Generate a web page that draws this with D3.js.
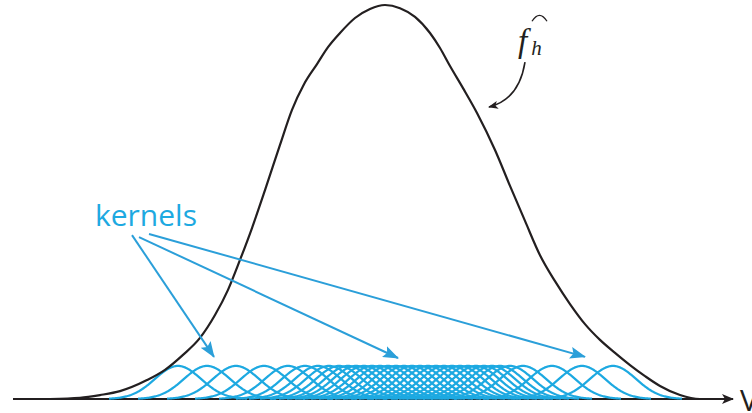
<!DOCTYPE html>
<html>
<head>
<meta charset="utf-8">
<script src="https://cdn.jsdelivr.net/npm/d3@7"></script>
<style>
  html, body { margin: 0; padding: 0; background: #fff; }
  svg { display: block; }
</style>
</head>
<body>
<svg id="chart" width="752" height="413"></svg>
<script>
// Kernel centres (observations) on the V axis
const kernelCenters = [16.5, 19.4, 22.3, 25.1, 27.5, 29.2, 30.5, 31.6, 32.6, 33.5,
  34.3, 35.1, 35.9, 36.7, 37.5, 38.3, 39.1, 39.9, 40.7, 41.5, 42.3, 43.1, 43.9,
  44.7, 45.5, 46.3, 47.1, 47.9, 48.7, 49.7, 51.0, 53.9, 56.9, 60.0];
const bandwidth = 2.3;       // kernel standard deviation
const kernelHeight = 0.084;  // peak height of one drawn kernel

// Estimated density f̂_h (V, density)
const densityV = [3.7, 6.7, 8.7, 10.7, 13.4, 15.2, 17.0, 18.7, 20.2, 21.5, 22.7, 23.9,
  25.2, 26.7, 27.9, 29.1, 30.4, 31.5, 32.7, 34.2, 35.7, 37.2, 38.7, 40.2, 41.7, 42.7,
  43.7, 45.0, 46.4, 48.2, 49.7, 51.2, 52.7, 54.2, 55.7, 57.2, 58.7, 60.2, 61.7, 63.2,
  64.7, 66.7, 68.7, 70.7];
const densityF = [0, 0.003, 0.010, 0.020, 0.048, 0.074, 0.112, 0.155, 0.213, 0.277, 0.353, 0.434,
  0.530, 0.645, 0.734, 0.799, 0.850, 0.893, 0.929, 0.967, 0.990, 1.0, 0.992, 0.970, 0.929, 0.891,
  0.845, 0.789, 0.726, 0.632, 0.541, 0.452, 0.365, 0.299, 0.241, 0.190, 0.150, 0.117, 0.086, 0.058,
  0.033, 0.010, 0, 0];

// Annotation anchors (V, density)
const kernelLabel = {text: "kernels", v: 8.2, f: 0.44};
const kernelArrowStarts = [[11.9, 0.416], [12.6, 0.411], [13.6, 0.419]];
const kernelArrowTips = [[20.1, 0.107], [38.5, 0.104], [57.2, 0.107]];
const fhatLabel = {v: 50.5, f: 0.88};
const fhatArrow = {from: [51.2, 0.855], ctrl: [50.6, 0.76], to: [47.6, 0.741]};
const axisLabel = "V";

const blue = "#1da9e1";
const arrowBlue = "#2b9fd9";
const ink = "#231f20";

const svg = d3.select("#chart");
const x = d3.scaleLinear().domain([0, 72]).range([13, 733]);
const y = d3.scaleLinear().domain([0, 1]).range([399, 5]);

const defs = svg.append("defs");
defs.append("marker").attr("id", "headBlue")
  .attr("viewBox", "0 0 16 12").attr("refX", 15).attr("refY", 6)
  .attr("markerUnits", "userSpaceOnUse").attr("markerWidth", 16).attr("markerHeight", 12)
  .attr("orient", "auto")
  .append("path").attr("d", "M0,0 L16,6 L0,12 L3,6 Z").attr("fill", arrowBlue);
defs.append("marker").attr("id", "headInk")
  .attr("viewBox", "0 0 12 10").attr("refX", 11).attr("refY", 5)
  .attr("markerUnits", "userSpaceOnUse").attr("markerWidth", 12).attr("markerHeight", 10)
  .attr("orient", "auto")
  .append("path").attr("d", "M0,0 L12,5 L0,10 L3,5 Z").attr("fill", ink);
defs.append("marker").attr("id", "headSmall")
  .attr("viewBox", "0 0 10 8").attr("refX", 9).attr("refY", 4)
  .attr("markerUnits", "userSpaceOnUse").attr("markerWidth", 10).attr("markerHeight", 8)
  .attr("orient", "auto")
  .append("path").attr("d", "M0,0 L10,4 L0,8 L2.5,4 Z").attr("fill", ink);

// V axis
svg.append("line")
  .attr("x1", x(0)).attr("x2", x(72))
  .attr("y1", y(0)).attr("y2", y(0))
  .attr("stroke", ink).attr("stroke-width", 2)
  .attr("marker-end", "url(#headInk)");
svg.append("text")
  .attr("x", x(72) + 7).attr("y", y(0) + 12)
  .attr("font-family", "'Open Sans', sans-serif").attr("font-size", 30)
  .attr("fill", ink).text(axisLabel);

// Individual kernels
const kernelLine = d3.line().x(d => x(d[0])).y(d => y(d[1]));
const kernelGroup = svg.append("g").attr("fill", "none").attr("stroke", blue).attr("stroke-width", 2.2);
kernelCenters.forEach(c => {
  const pts = d3.range(-3, 3.0001, 0.05).map(t => [c + t * bandwidth, kernelHeight * Math.exp(-0.5 * t * t)]);
  kernelGroup.append("path").attr("d", kernelLine(pts));
});

// Density estimate
const densityLine = d3.line().x((d, i) => x(densityV[i])).y(d => y(d)).curve(d3.curveMonotoneX);
svg.append("path")
  .attr("d", densityLine(densityF))
  .attr("fill", "none").attr("stroke", ink).attr("stroke-width", 2.2);

// Kernel label and arrows
svg.append("text")
  .attr("x", x(kernelLabel.v)).attr("y", y(kernelLabel.f))
  .attr("font-family", "'Open Sans', sans-serif").attr("font-size", 30)
  .attr("fill", blue).text(kernelLabel.text);
kernelArrowStarts.forEach((s, i) => {
  const t = kernelArrowTips[i];
  svg.append("line")
    .attr("x1", x(s[0])).attr("y1", y(s[1]))
    .attr("x2", x(t[0])).attr("y2", y(t[1]))
    .attr("stroke", arrowBlue).attr("stroke-width", 2)
    .attr("marker-end", "url(#headBlue)");
});

// f̂_h label
const fx = x(fhatLabel.v), fy = y(fhatLabel.f);
const fl = svg.append("text")
  .attr("x", fx).attr("y", fy)
  .attr("font-family", "'Liberation Serif', serif").attr("font-style", "italic")
  .attr("font-size", 33).attr("fill", ink);
fl.append("tspan").text("f");
fl.append("tspan").attr("font-size", 21).attr("dx", 4).attr("dy", 3).text("h");
svg.append("path")
  .attr("d", `M${fx + 14},${fy - 31} Q${fx + 21.5},${fy - 43} ${fx + 29},${fy - 31}`)
  .attr("fill", "none").attr("stroke", ink).attr("stroke-width", 1.3);

svg.append("path")
  .attr("d", `M${x(fhatArrow.from[0])},${y(fhatArrow.from[1])} Q${x(fhatArrow.ctrl[0])},${y(fhatArrow.ctrl[1])} ${x(fhatArrow.to[0])},${y(fhatArrow.to[1])}`)
  .attr("fill", "none").attr("stroke", ink).attr("stroke-width", 1.6)
  .attr("marker-end", "url(#headSmall)");
</script>
</body>
</html>
